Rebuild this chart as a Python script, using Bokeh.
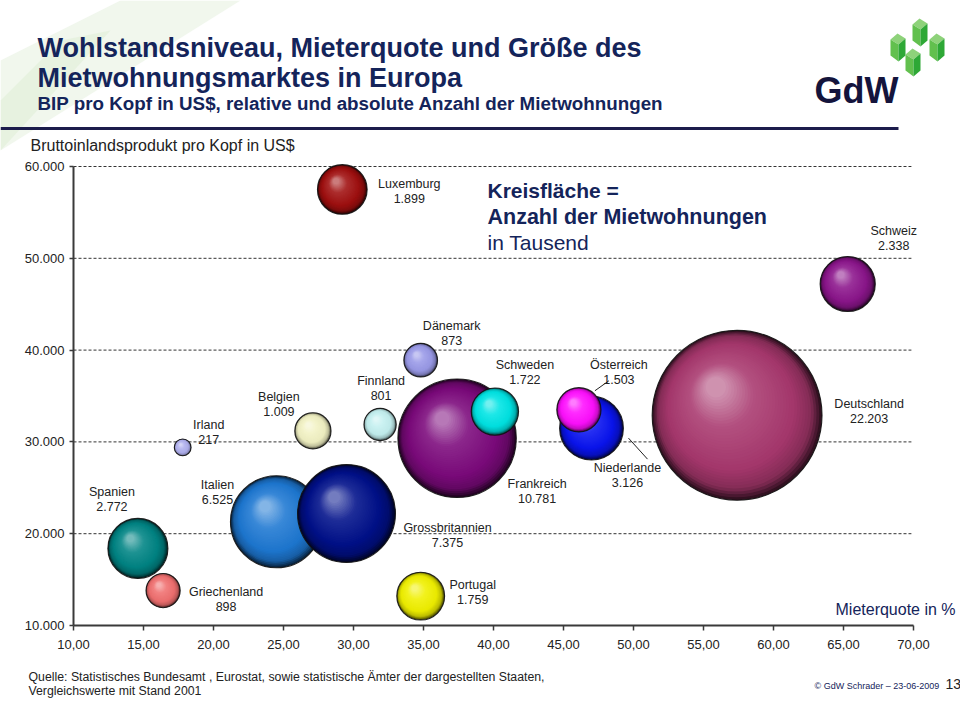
import numpy as np
from bokeh.plotting import figure
from bokeh.models import ColumnDataSource, FixedTicker, Label, PolyAnnotation, Range1d, LinearAxis
from bokeh.core.properties import value
from bokeh.embed import file_html
from bokeh.resources import INLINE

# ---------------- data ----------------
countries = ["Deutschland", "Frankreich", "Schweden", "Italien", "Grossbritannien",
             "Niederlande", "Österreich", "Luxemburg", "Schweiz", "Dänemark",
             "Finnland", "Belgien", "Irland", "Spanien", "Griechenland", "Portugal"]
mieterquote = [57.4, 37.4, 40.1, 24.5, 29.5, 47.0, 46.1, 29.2, 65.3, 34.8,
               31.9, 27.1, 17.8, 14.6, 16.4, 34.8]
bip = [32900, 30400, 33300, 21300, 22200, 31500, 33500, 57500, 47200, 38900,
       31900, 31200, 29400, 18400, 13800, 13200]
mietwohnungen = [22203, 10781, 1722, 6525, 7375, 3126, 1503, 1899, 2338, 873,
                 801, 1009, 217, 2772, 898, 1759]   # in Tausend
colors = ["#a8386e", "#7c0a7c", "#00e4e4", "#1e78d2", "#00108a",
          "#0a14f0", "#ff10ff", "#a01010", "#8c168c", "#9a9ae8",
          "#c4f0f0", "#f2f2c4", "#b0b0ee", "#008484", "#f07070", "#f0f000"]

x_ticks = [10, 15, 20, 25, 30, 35, 40, 45, 50, 55, 60, 65, 70]
x_tick_labels = ["10,00", "15,00", "20,00", "25,00", "30,00", "35,00", "40,00",
                 "45,00", "50,00", "55,00", "60,00", "65,00", "70,00"]
y_ticks = [10000, 20000, 30000, 40000, 50000, 60000]
y_tick_labels = ["10.000", "20.000", "30.000", "40.000", "50.000", "60.000"]

# label placement (pixel offsets of the name line from bubble centre)
label_offsets = {
    "Luxemburg": (67, -5), "Schweiz": (46, -53), "Dänemark": (31, -34),
    "Finnland": (1, -43), "Belgien": (-34, -34), "Irland": (26, -22),
    "Spanien": (-26, -56), "Griechenland": (63, 1), "Italien": (-59, -37),
    "Grossbritannien": (101, 14), "Portugal": (52, -11), "Frankreich": (80, 46),
    "Schweden": (30, -47), "Österreich": (40, -45), "Niederlande": (36, 40),
    "Deutschland": (132, -11),
}
leaders = {"Österreich": ((16, -19), (30, -29)), "Niederlande": ((37, 10), (56, 31))}

# ---------------- layout ----------------
W, H = 960, 727
FL, FR, FT, FB = 73, 913, 166, 625      # pixel box of the data area
X0, X1, Y0, Y1 = 10, 70, 10000, 60000
kx = (FR - FL) / (X1 - X0)
ky = (FB - FT) / (Y1 - Y0)
def dx(px): return X0 + (px - FL) / kx
def dy(py): return Y0 + (FB - py) / ky

FONT = "Liberation Sans"
NAVY = "#14245a"

p = figure(width=W, height=H, x_range=Range1d(dx(0), dx(W)), y_range=Range1d(dy(H), dy(0)),
           output_backend="svg", toolbar_location=None, title=None,
           x_axis_location=None, y_axis_location=None, min_border=0)
p.outline_line_color = None
p.background_fill_color = "white"
p.border_fill_color = "white"
p.grid.visible = False

xaxis = LinearAxis(fixed_location=Y0, bounds=(X0, X1))
yaxis = LinearAxis(fixed_location=X0, bounds=(Y0, Y1))
p.add_layout(xaxis, "below")
p.add_layout(yaxis, "left")
for ax, ticks, labels, tout in ((xaxis, x_ticks, x_tick_labels, 5), (yaxis, y_ticks, y_tick_labels, 4)):
    ax.ticker = FixedTicker(ticks=ticks)
    ax.major_label_overrides = dict(zip(ticks, labels))
    ax.axis_line_color = "#3a3a3a"
    ax.axis_line_width = 2
    ax.major_tick_line_color = "#3a3a3a"
    ax.major_tick_line_width = 1.5
    ax.major_tick_out = tout
    ax.major_tick_in = 0
    ax.minor_tick_line_color = None
    ax.major_label_text_font = FONT
    ax.major_label_text_font_size = "13px"
    ax.major_label_text_color = "#222222"
xaxis.major_label_standoff = 9
yaxis.major_label_standoff = 5

# dashed horizontal grid lines at the y ticks
p.segment(x0=[X0] * (len(y_ticks) - 1), x1=[X1 - 0.15] * (len(y_ticks) - 1),
          y0=y_ticks[1:], y1=y_ticks[1:], line_color="#333333",
          line_dash="3 2", line_width=1)

# ---------------- spheres ----------------
def hex2rgb(h):
    h = h.lstrip("#")
    return np.array([int(h[i:i + 2], 16) for i in (0, 2, 4)], dtype=float)

def rgb2hex(c):
    c = np.clip(np.round(c), 0, 255).astype(int)
    return "#%02x%02x%02x" % tuple(c)

def shade(base, t):
    b = hex2rgb(base)
    white = np.array([255.0, 255.0, 255.0])
    stops = [(0.0, b * 0.3), (0.1, b * 0.78), (0.28, b * 0.97), (0.7, b + (white - b) * 0.12),
             (1.0, b + (white - b) * 0.45)]
    for (t0, c0), (t1, c1) in zip(stops[:-1], stops[1:]):
        if t <= t1:
            f = (t - t0) / (t1 - t0)
            return rgb2hex(c0 + (c1 - c0) * f)
    return rgb2hex(stops[-1][1])

K = 1.14  # px of diameter per sqrt(thousand flats)
diam = np.array([K * np.sqrt(v) for v in mietwohnungen])
N = 36
for idx in range(len(countries)):
    d = diam[idx]
    r = d / 2
    xs, ys, ss, cs = [], [], [], []
    for i in range(N):
        t = i / (N - 1)
        xs.append(mieterquote[idx] - 0.25 * r * t / kx)
        ys.append(bip[idx] + 0.33 * r * t / ky)
        ss.append(d * (1 - 0.88 * t))
        cs.append(shade(colors[idx], t))
    src = ColumnDataSource(dict(x=xs, y=ys, s=ss, c=cs))
    p.scatter("x", "y", size="s", fill_color="c", line_color=None, source=src)
    p.scatter([mieterquote[idx]], [bip[idx]], size=d, fill_color=None,
              line_color="#111111", line_width=1.1, line_alpha=0.9)

# ---------------- bubble labels ----------------
def fmt(v):
    return f"{v:,}".replace(",", ".")

lab = ColumnDataSource(dict(
    x=mieterquote, y=bip,
    name=countries, val=[fmt(v) for v in mietwohnungen],
    xo=[label_offsets[c][0] for c in countries],
    yo1=[label_offsets[c][1] for c in countries],
    yo2=[label_offsets[c][1] + 14.5 for c in countries],
))
for col, yo in (("name", "yo1"), ("val", "yo2")):
    p.text(x="x", y="y", text=col, x_offset="xo", y_offset=yo, source=lab,
           text_align="center", text_baseline="middle",
           text_font=value(FONT), text_font_size="12.5px", text_color="#222222")

for c, ((ax0, ay0), (ax1, ay1)) in leaders.items():
    i = countries.index(c)
    p.segment(x0=[mieterquote[i] + ax0 / kx], y0=[bip[i] - ay0 / ky],
              x1=[mieterquote[i] + ax1 / kx], y1=[bip[i] - ay1 / ky],
              line_color="#222222", line_width=1)

# ---------------- annotations ----------------
def add_label(text, px, py, size, color="#222222", style="normal", align="left"):
    p.add_layout(Label(x=dx(px), y=dy(py), text=text, text_font=FONT,
                       text_font_size=size, text_color=color, text_font_style=style,
                       text_align=align, text_baseline="middle"))

def add_poly(pts, color, alpha=1.0):
    p.add_layout(PolyAnnotation(xs=[dx(a) for a, b in pts], ys=[dy(b) for a, b in pts],
                                fill_color=color, fill_alpha=alpha, line_color=None))

# pale green wedge
add_poly([(0, 150), (0, 60), (120, 0), (240, 0)], "#e4f0dc", 0.5)
add_poly([(0, 150), (0, 100), (60, 40), (110, 30)], "#dbebd0", 0.45)
# header rule
add_poly([(0, 126.5), (898, 126.5), (898, 129.5), (0, 129.5)], "#1c1c4c")

add_label("Wohlstandsniveau, Mieterquote und Größe des", 37, 47, "27px", NAVY, "bold")
add_label("Mietwohnungsmarktes in Europa", 37, 77, "27px", NAVY, "bold")
add_label("BIP pro Kopf in US$, relative und absolute Anzahl der Mietwohnungen", 37, 103, "18.8px", NAVY, "bold")
add_label("Bruttoinlandsprodukt pro Kopf in US$", 30, 145, "16px", "#222222")

# logo
add_label("GdW", 814, 90, "36px", "#14143c", "bold")
for (cx, ty) in [(920, 18), (898, 33), (937, 33), (913, 48)]:
    add_poly([(cx - 8, ty + 6), (cx - 1, ty), (cx + 7, ty + 5), (cx, ty + 11)], "#8ed27a")
    add_poly([(cx - 8, ty + 6), (cx, ty + 11), (cx, ty + 28), (cx - 8, ty + 22)], "#62c04e")
    add_poly([(cx, ty + 11), (cx + 7, ty + 5), (cx + 7, ty + 22), (cx, ty + 28)], "#2ea836")

add_label("Kreisfläche =", 487, 190, "21px", NAVY, "bold")
add_label("Anzahl der Mietwohnungen", 487, 216, "21.5px", NAVY, "bold")
add_label("in Tausend", 487, 242, "21px", NAVY)
add_label("Mieterquote in %", 835, 609, "16px", NAVY)

add_label("Quelle:  Statistisches Bundesamt , Eurostat, sowie statistische Ämter der dargestellten Staaten,", 28, 676, "12.3px", "#222222")
add_label("Vergleichswerte mit Stand 2001", 28, 690, "12.3px", "#222222")
add_label("© GdW Schrader – 23-06-2009", 814, 685, "9px", NAVY)
add_label("13", 945, 683, "14px", "#222222")

open("out.html", "w").write(file_html(p, INLINE))
